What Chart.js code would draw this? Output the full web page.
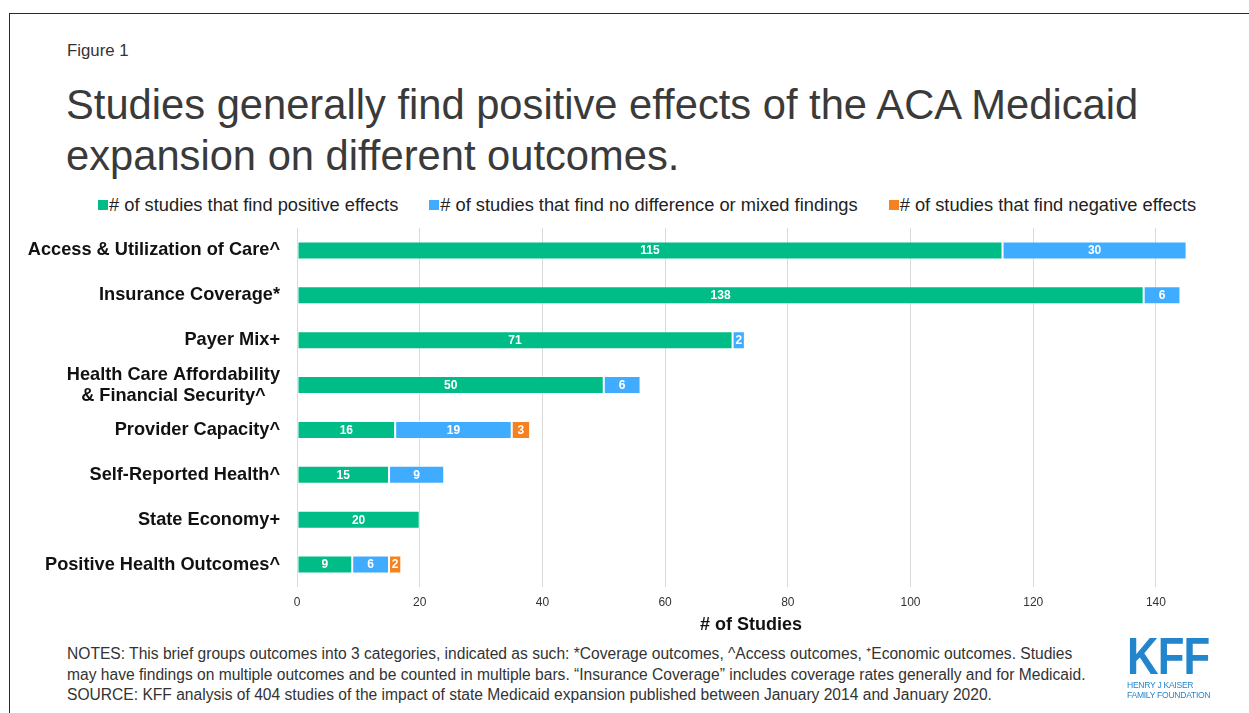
<!DOCTYPE html>
<html>
<head>
<meta charset="utf-8">
<script src="https://cdn.jsdelivr.net/npm/chart.js@4.4.1/dist/chart.umd.min.js"></script>
<style>
  html, body { margin: 0; padding: 0; background: #fff; }
  body { width: 1249px; height: 713px; position: relative; overflow: hidden; font-family: "Liberation Sans", Arial, sans-serif; color: #333; }
  .frame { position: absolute; left: 9px; top: 13px; width: 1300px; height: 760px; border-top: 1.5px solid #1d2b3a; border-left: 1.5px solid #1d2b3a; }
  .fig { position: absolute; left: 67px; top: 41px; font-size: 16.8px; color: #333; }
  h1 { position: absolute; left: 66px; top: 79px; margin: 0; font-weight: normal; font-size: 41.7px; line-height: 51px; color: #3a3a3a; }
  .legend { position: absolute; left: 98px; top: 194px; font-size: 18.3px; color: #222; white-space: nowrap; }
  .legend span.item { margin-right: 31px; }
  .legend i { display: inline-block; width: 10px; height: 10px; margin-right: 1px; vertical-align: 1px; }
  .chart { position: absolute; left: 0; top: 203px; width: 1249px; height: 440px; }
  .notes { position: absolute; left: 67px; top: 644px; font-size: 15.6px; line-height: 20.5px; color: #333; white-space: nowrap; }
  .logo { position: absolute; left: 1127px; top: 634px; color: #2386cc; }
  .logo .kff { font-weight: bold; font-size: 52px; line-height: 44px; letter-spacing: -1px; transform: scaleX(0.84); transform-origin: left top; display: block; }
  .logo .sub { font-size: 9.5px; line-height: 9.5px; letter-spacing: -0.3px; margin-top: 2px; transform: scaleX(0.9); transform-origin: left top; }
</style>
</head>
<body>
<div class="frame"></div>
<div class="fig">Figure 1</div>
<h1>Studies generally find positive effects of the ACA Medicaid<br>expansion on different outcomes.</h1>
<div class="legend" id="legend"></div>
<div class="chart"><canvas id="grafico"></canvas></div>
<div class="notes">
  NOTES: This brief groups outcomes into 3 categories, indicated as such: *Coverage outcomes, ^Access outcomes, ⁺Economic outcomes. Studies<br>
  may have findings on multiple outcomes and be counted in multiple bars. “Insurance Coverage” includes coverage rates generally and for Medicaid.<br>
  SOURCE: KFF analysis of 404 studies of the impact of state Medicaid expansion published between January 2014 and January 2020.
</div>
<div class="logo">
  <span class="kff">KFF</span>
  <div class="sub">HENRY J KAISER<br>FAMILY FOUNDATION</div>
</div>

<script>
// Outcome categories (top to bottom)
const categories = [
  'Access & Utilization of Care^',
  'Insurance Coverage*',
  'Payer Mix+',
  ['Health Care Affordability', '& Financial Security^'],
  'Provider Capacity^',
  'Self-Reported Health^',
  'State Economy+',
  'Positive Health Outcomes^'
];

// Number of studies per finding
const positive = [115, 138, 71, 50, 16, 15, 20, 9];
const mixed    = [30, 6, 2, 6, 19, 9, null, 6];
const negative = [null, null, null, null, 3, null, null, 2];

const seriesNames = [
  '# of studies that find positive effects',
  '# of studies that find no difference or mixed findings',
  '# of studies that find negative effects'
];
const seriesColors = ['#00bc87', '#40acff', '#f5821f'];

// legend in html
const legendEl = document.getElementById('legend');
seriesNames.forEach((name, i) => {
  const item = document.createElement('span');
  item.className = 'item';
  item.innerHTML = '<i style="background:' + seriesColors[i] + '"></i>' + name;
  legendEl.appendChild(item);
});

// white value labels centred in each segment
const segmentLabels = {
  id: 'segmentLabels',
  afterDatasetsDraw(chart) {
    const ctx = chart.ctx;
    ctx.save();
    ctx.font = 'bold 12px "Liberation Sans", Arial, sans-serif';
    ctx.fillStyle = '#fff';
    ctx.textAlign = 'center';
    ctx.textBaseline = 'middle';
    chart.data.datasets.forEach((ds, i) => {
      chart.getDatasetMeta(i).data.forEach((bar, j) => {
        const v = ds.data[j];
        if (!v) return;
        const p = bar.getProps(['x', 'y', 'base'], true);
        ctx.fillText(v, (p.x + p.base) / 2, p.y + 0.5);
      });
    });
    ctx.restore();
  }
};

// category labels, multi-line ones centred on their widest line
const categoryLabels = {
  id: 'categoryLabels',
  afterDraw(chart) {
    const ctx = chart.ctx;
    const yScale = chart.scales.y;
    const right = 280;
    ctx.save();
    ctx.font = 'bold 18.2px "Liberation Sans", Arial, sans-serif';
    ctx.fillStyle = '#111';
    ctx.textAlign = 'center';
    ctx.textBaseline = 'middle';
    categories.forEach((label, j) => {
      const lines = Array.isArray(label) ? label : [label];
      const w = Math.max(...lines.map(l => ctx.measureText(l).width));
      const cy = yScale.getPixelForValue(j);
      const lh = 21;
      lines.forEach((l, k) => {
        ctx.fillText(l, right - w / 2, cy + (k - (lines.length - 1) / 2) * lh);
      });
    });
    ctx.restore();
  }
};

const makeSet = (data, i) => ({
  label: seriesNames[i],
  data: data,
  backgroundColor: seriesColors[i],
  borderColor: 'rgba(255,255,255,0.45)',
  borderWidth: 1,
  borderSkipped: false,
  barPercentage: 0.4,
  categoryPercentage: 1
});

const config = {
  type: 'bar',
  data: {
    labels: categories,
    datasets: [makeSet(positive, 0), makeSet(mixed, 1), makeSet(negative, 2)]
  },
  options: {
    indexAxis: 'y',
    responsive: true,
    maintainAspectRatio: false,
    animation: false,
    layout: { padding: { left: 289, right: 44, top: 25, bottom: 7 } },
    plugins: {
      legend: { display: false },
      tooltip: { enabled: false }
    },
    scales: {
      x: {
        stacked: true,
        min: 0,
        max: 148,
        grid: { color: '#d9d9d9', drawTicks: false, lineWidth: 1 },
        border: { display: false },
        ticks: {
          stepSize: 20,
          includeBounds: false,
          padding: 8,
          color: '#333',
          font: { family: '"Liberation Sans", Arial, sans-serif', size: 12 }
        },
        title: {
          display: true,
          text: '# of Studies',
          color: '#111',
          padding: { top: -3, bottom: 0 },
          font: { family: '"Liberation Sans", Arial, sans-serif', size: 18, weight: 'bold' }
        }
      },
      y: {
        stacked: true,
        grid: { display: false },
        border: { display: false },
        ticks: { display: false }
      }
    }
  },
  plugins: [segmentLabels, categoryLabels]
};

// Criar gráfico no canvas
const ctx = document.getElementById('grafico').getContext('2d');
new Chart(ctx, config);
</script>
</body>
</html>
